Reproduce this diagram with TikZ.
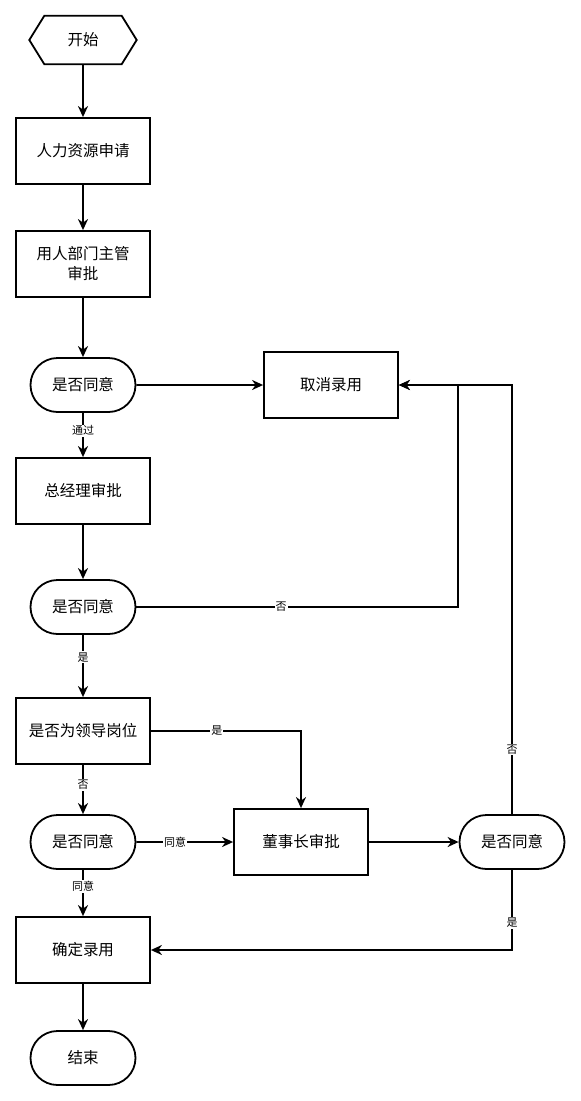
\documentclass[tikz,border=0pt]{standalone}
\usepackage{fontspec}
\newfontfamily\cjk{Noto Sans CJK SC}
\usetikzlibrary{shapes.misc,arrows.meta,calc}
\begin{document}
\begin{tikzpicture}[x=1pt,y=-1pt,
  box/.style={draw, line width=1.8pt, minimum width=134pt, minimum height=66pt,
    font=\cjk\fontsize{15.5}{20}\selectfont, align=center, inner sep=0pt},
  term/.style={draw, rounded rectangle, line width=1.8pt, minimum width=105pt,
    minimum height=54pt, font=\cjk\fontsize{15.5}{20}\selectfont, inner sep=0pt},
  arr/.style={line width=1.8pt, -{Stealth[length=11pt,width=10pt,inset=3.5pt]}},
  lab/.style={fill=white, font=\cjk\fontsize{11}{11}\selectfont, inner sep=1pt}]
\useasboundingbox (0,0) rectangle (581,1101);

% start hexagon
\node[minimum width=107pt, minimum height=48pt, inner sep=0pt,
  font=\cjk\fontsize{15.5}{20}\selectfont] (start) at (83,40) {开始};
\draw[line width=1.8pt, line join=miter]
  (start.west) -- ($(start.north west)+(15,0)$) -- ($(start.north east)+(-15,0)$)
  -- (start.east) -- ($(start.south east)+(-15,0)$) -- ($(start.south west)+(15,0)$)
  -- cycle;

\node[box] (b1) at (83,151) {人力资源申请};
\node[box] (b2) at (83,264) {用人部门主管\\审批};
\node[term] (d1) at (83,385) {是否同意};
\node[box] (cancel) at (331,385) {取消录用};
\node[box] (gm) at (83,491) {总经理审批};
\node[term] (d2) at (83,607) {是否同意};
\node[box] (lead) at (83,731) {是否为领导岗位};
\node[term] (d3) at (83,842) {是否同意};
\node[box] (chair) at (301,842) {董事长审批};
\node[term] (d4) at (512,842) {是否同意};
\node[box] (ok) at (83,950) {确定录用};
\node[term] (end) at (83,1058) {结束};

\coordinate (j1) at (458,607);
\coordinate (j2) at (512,385);

\draw[arr] (start) -- (b1);
\draw[arr] (b1) -- (b2);
\draw[arr] (b2) -- (d1);
\draw[arr] (d1) -- (cancel);
\draw[arr] (d1) -- node[lab, pos=0.4] {通过} (gm);
\draw[arr] (gm) -- (d2);
\draw[arr] (d2.east) -- node[lab, pos=0.45] {否} (j1) |- (cancel.east);
\draw[arr] (d2) -- node[lab, pos=0.36] {是} (lead);
\draw[arr] (lead.east) -| node[lab, pos=0.22] {是} (chair.north);
\draw[arr] (lead) -- node[lab, pos=0.41] {否} (d3);
\draw[arr] (d3) -- node[lab, pos=0.4] {同意} (chair);
\draw[arr] (d3) -- node[lab, pos=0.36] {同意} (ok);
\draw[arr] (chair) -- (d4);
\draw[arr] (d4.north) -- node[lab, pos=0.15] {否} (j2) -- (cancel.east);
\draw[arr] (d4.south) |- node[lab, pos=0.33] {是} (ok.east);
\draw[arr] (ok) -- (end);
\end{tikzpicture}
\end{document}
